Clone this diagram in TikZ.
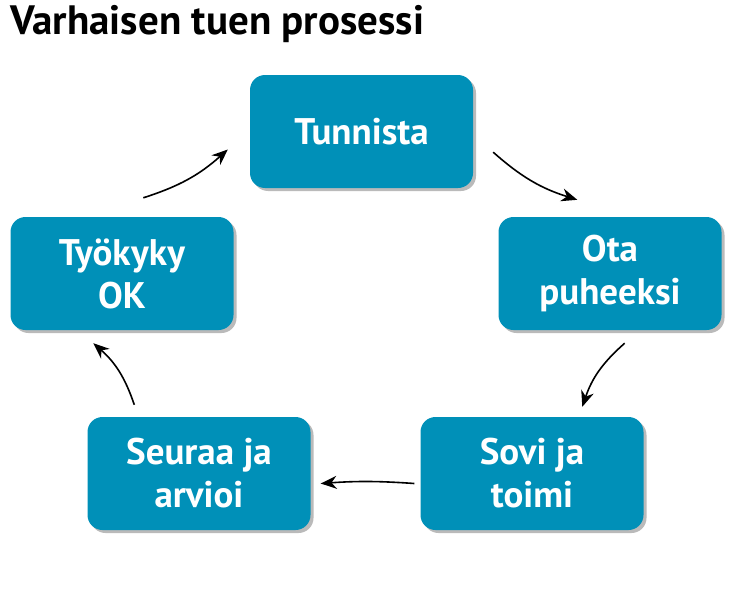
\documentclass[tikz,border=0pt]{standalone}
\usepackage{fontspec}
\setmainfont{PT Sans}
\usetikzlibrary{arrows.meta,shadows,calc}
\definecolor{boxblue}{HTML}{0090B8}
\tikzset{
  stepbox/.style={fill=boxblue,rounded corners=15pt,minimum width=223pt,minimum height=113pt,
    text=white,font=\bfseries\fontsize{37}{43}\selectfont,align=center,
    drop shadow={shadow xshift=3pt,shadow yshift=-3pt,fill=black!45,opacity=0.6}},
  conn/.style={-{Stealth[length=16pt,width=13pt]},line width=1.6pt}
}
\begin{document}
\begin{tikzpicture}[x=1pt,y=-1pt]
\useasboundingbox (0,0) rectangle (739,589);
\node[anchor=north west,font=\bfseries\fontsize{41}{46}\selectfont,inner sep=0pt] (title) at (10,5) {Varhaisen tuen prosessi};
\node[stepbox] (t) at (361.5,131.5) {Tunnista};
\node[stepbox] (o) at (610,273.5) {Ota\\puheeksi};
\node[stepbox] (s) at (532,473.5) {Sovi ja\\toimi};
\node[stepbox] (r) at (199,473.5) {Seuraa ja\\arvioi};
\node[stepbox] (k) at (122,273.5) {Työkyky\\OK};
\coordinate (a1) at ($(t.south east)+(20,-36)$);
\coordinate (b1) at ($(o.north west)+(79,-17)$);
\draw[conn] (a1) to[bend right=12] (b1);
\coordinate (a2) at ($(o.south east)+(-97,13)$);
\coordinate (b2) at ($(s.north west)+(162,-10)$);
\draw[conn] (a2) to[bend right=15] (b2);
\coordinate (a3) at ($(s.west)+(-6,10)$);
\coordinate (b3) at ($(r.east)+(10,10)$);
\draw[conn] (a3) to[bend right=4] (b3);
\coordinate (a4) at ($(r.north west)+(47,-12)$);
\coordinate (b4) at ($(k.south west)+(83,13)$);
\draw[conn] (a4) to[bend right=15] (b4);
\coordinate (a5) at ($(k.north west)+(133,-19)$);
\coordinate (b5) at ($(t.west)+(-22,18)$);
\draw[conn] (a5) to[bend right=12] (b5);
\end{tikzpicture}
\end{document}
